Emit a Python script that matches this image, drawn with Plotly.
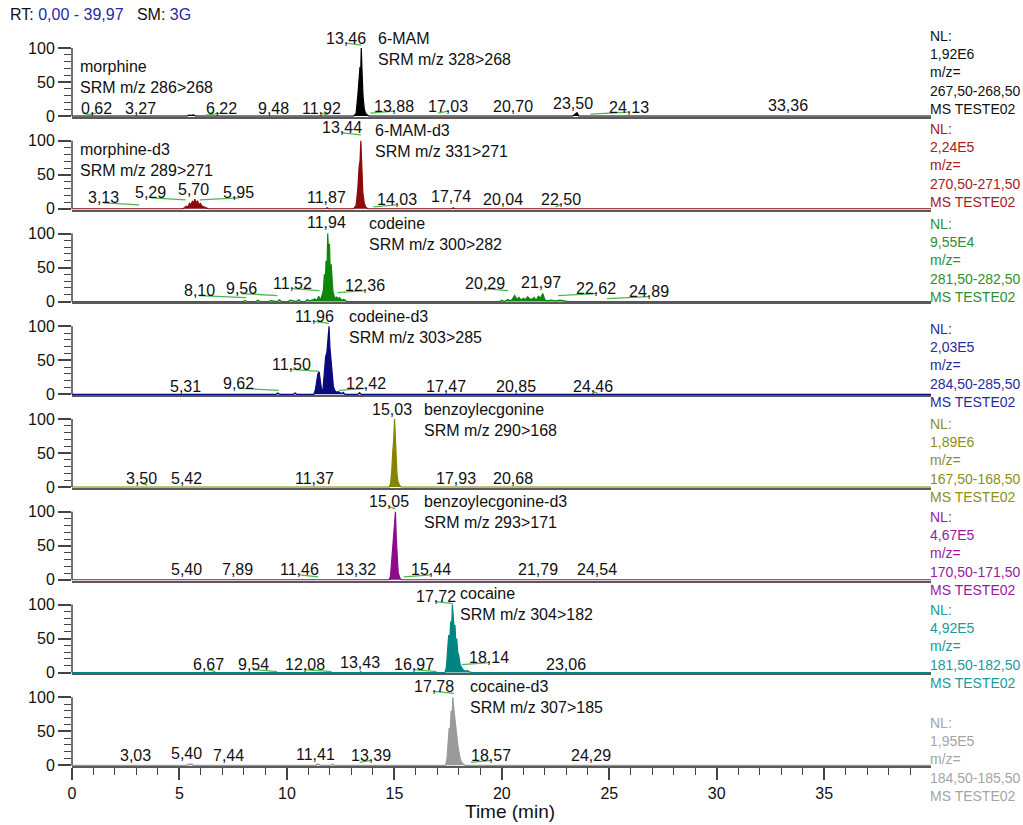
import plotly.graph_objects as go
from plotly.subplots import make_subplots

# ---------------- data ----------------
panel_names = ["6-MAM", "6-MAM-d3", "codeine", "codeine-d3", "benzoylecgonine",
               "benzoylecgonine-d3", "cocaine", "cocaine-d3"]
nl_values = ["1,92E6", "2,24E5", "9,55E4", "2,03E5", "1,89E6", "4,67E5", "4,92E5", "1,95E5"]
mz_ranges = ["267,50-268,50", "270,50-271,50", "281,50-282,50", "284,50-285,50",
             "167,50-168,50", "170,50-171,50", "181,50-182,50", "184,50-185,50"]

t1 = [0.0, 5.35, 5.45, 5.55, 5.65, 5.75, 13.10, 13.22, 13.30, 13.36, 13.40, 13.43, 13.46, 13.50,
      13.54, 13.60, 13.66, 13.74, 13.82, 23.30, 23.42, 23.50, 23.58, 39.97]
y1 = [0, 0, 1.5, 1.0, 1.8, 0, 0, 4, 30, 68, 72, 60, 100, 62, 30, 10, 4, 1.5, 0, 0, 2.5, 5, 0, 0]

t2 = [0.0, 5.15, 5.25, 5.32, 5.40, 5.47, 5.53, 5.60, 5.66, 5.72, 5.78, 5.84, 5.90, 5.97, 6.05,
      6.15, 6.25, 6.35, 11.80, 11.87, 11.94, 13.10, 13.22, 13.30, 13.36, 13.40, 13.44, 13.48,
      13.53, 13.60, 13.68, 13.78, 17.68, 17.74, 17.80, 39.97]
y2 = [0, 0, 2, 4, 3, 8, 6, 11, 9, 14, 8, 12, 6, 8, 4,
      3, 1.5, 0, 0, 1.5, 0, 0, 5, 30, 62, 70, 100, 58,
      25, 8, 2, 0, 0, 1.5, 0, 0]

t3 = [0.0, 7.95, 8.05, 8.15, 8.55, 8.65, 8.75, 9.15, 9.25, 9.55, 9.65, 9.75, 10.05, 10.15,
      10.45, 10.55, 10.65, 10.85, 10.95, 11.05, 11.20, 11.30, 11.40, 11.48, 11.54, 11.60, 11.66,
      11.70, 11.74, 11.78, 11.82, 11.86, 11.90, 11.94, 11.98, 12.02, 12.06, 12.10, 12.14, 12.20,
      12.26, 12.32, 12.38, 12.44, 12.55, 12.65, 12.80, 12.90, 19.90, 20.00, 20.10, 20.20, 20.30,
      20.40, 20.50, 20.60, 20.70, 20.80, 20.90, 21.00, 21.10, 21.20, 21.30, 21.40, 21.50, 21.60,
      21.70, 21.80, 21.90, 22.00, 22.10, 22.30, 22.50, 22.70, 22.90, 23.10, 39.97]
y3 = [0, 0, 1.5, 0, 0, 2, 0, 0, 1.5, 0, 2.5, 0, 0, 2,
      0, 2.5, 0, 0, 3, 1, 2.5, 4, 2, 8, 3, 6, 12,
      18, 40, 25, 60, 45, 100, 70, 85, 40, 55, 22, 15, 8,
      4, 7, 3, 6, 2, 3, 0, 0, 0, 2, 0, 1.5, 3,
      1, 4, 9, 3, 6, 2, 5, 3, 7, 4, 3, 6, 2,
      8, 5, 12, 3, 1, 2, 1, 2, 1, 0, 0]

t4 = [0.0, 5.20, 5.30, 5.40, 9.50, 9.58, 9.66, 10.30, 10.38, 10.46, 11.25, 11.32, 11.38, 11.44,
      11.50, 11.56, 11.62, 11.68, 11.74, 11.80, 11.86, 11.92, 11.96, 12.00, 12.05, 12.10, 12.16,
      12.22, 12.30, 12.38, 12.46, 12.55, 12.62, 12.70, 13.30, 13.38, 13.46, 39.97]
y4 = [0, 0, 1, 0, 0, 2, 0, 0, 2, 0, 0, 6, 22, 30,
      33, 20, 5, 8, 30, 55, 62, 85, 100, 70, 50, 25, 12,
      6, 3, 4, 2, 1, 3, 0, 0, 2.5, 0, 0]

t5 = [0.0, 14.75, 14.82, 14.88, 14.93, 14.97, 15.01, 15.04, 15.08, 15.12, 15.17, 15.24, 15.32, 39.97]
y5 = [0, 0, 4, 25, 55, 70, 100, 78, 45, 20, 8, 3, 0, 0]

t6 = [0.0, 14.75, 14.82, 14.88, 14.93, 14.98, 15.02, 15.05, 15.09, 15.13, 15.18, 15.25, 15.33, 39.97]
y6 = [0, 0, 5, 30, 62, 75, 90, 100, 60, 25, 10, 3, 0, 0]

t7 = [0.0, 13.38, 13.43, 13.48, 17.35, 17.42, 17.48, 17.53, 17.58, 17.62, 17.66, 17.70, 17.74,
      17.78, 17.82, 17.86, 17.90, 17.95, 18.00, 18.06, 18.12, 18.20, 18.30, 18.40, 18.50, 18.60, 39.97]
y7 = [0, 0, 1.5, 0, 0, 8, 35, 55, 48, 75, 60, 100, 82,
      65, 70, 45, 50, 30, 25, 12, 8, 4, 2, 3, 1, 0, 0]

t8 = [0.0, 5.35, 5.42, 5.50, 5.58, 5.65, 11.35, 11.42, 11.50, 11.58, 12.05, 12.12, 12.19, 17.38,
      17.45, 17.50, 17.55, 17.60, 17.64, 17.68, 17.72, 17.76, 17.80, 17.85, 17.90, 17.95, 18.00,
      18.06, 18.12, 18.20, 18.30, 39.97]
y8 = [0, 0, 2, 1, 2, 0, 0, 2, 1, 0, 0, 2, 0, 0,
      10, 40, 55, 50, 80, 65, 100, 85, 70, 55, 45, 30, 20,
      10, 5, 2, 0, 0]

# labelled retention times (min)
rt_p1 = [13.46, 0.62, 3.27, 6.22, 9.48, 11.92, 13.88, 17.03, 20.70, 23.50, 24.13, 33.36]
rt_p2 = [13.44, 3.13, 5.29, 5.70, 5.95, 11.87, 14.03, 17.74, 20.04, 22.50]
rt_p3 = [11.94, 8.10, 9.56, 11.52, 12.36, 20.29, 21.97, 22.62, 24.89]
rt_p4 = [11.96, 11.50, 5.31, 9.62, 12.42, 17.47, 20.85, 24.46]
rt_p5 = [15.03, 3.50, 5.42, 11.37, 17.93, 20.68]
rt_p6 = [15.05, 5.40, 7.89, 11.46, 13.32, 15.44, 21.79, 24.54]
rt_p7 = [17.72, 6.67, 9.54, 12.08, 13.43, 16.97, 18.14, 23.06]
rt_p8 = [17.78, 3.03, 5.40, 7.44, 11.41, 13.39, 18.57, 24.29]

# ---------------- layout / style ----------------
traces_t = [t1, t2, t3, t4, t5, t6, t7, t8]
traces_y = [y1, y2, y3, y4, y5, y6, y7, y8]
rts = [rt_p1, rt_p2, rt_p3, rt_p4, rt_p5, rt_p6, rt_p7, rt_p8]
for a, b in zip(traces_t, traces_y):
    assert len(a) == len(b), (len(a), len(b))

# label offsets in pixels (text centre relative to peak RT / baseline)
lab_dx = [
    [-15, 11, -2, 16, -2, -7, 24, 10, -4, -4, 38, -1],
    [-19, -36, -35, -1, 39, -1, 23, -2, 0, 5],
    [-2, -47, -36, -27, 27, -23, -3, 38, 42],
    [-15, -28, -1, -40, 27, -1, -4, -5],
    [-3, -6, -2, -2, -1, -3],
    [-6, -2, -4, -19, -2, 27, -2, -2],
    [-17, -7, -24, -27, -1, -23, 27, -2],
    [-20, -2, -2, -3, -2, 11, 20, -3],
]
lab_dy = [
    [78, 8, 8, 8, 8, 8, 10, 10, 10, 13, 9, 11],
    [81, 11, 16, 19, 16, 11, 9, 12, 9, 9],
    [79, 11, 13, 18, 16, 18, 19, 13, 10],
    [78, 30, 8, 11, 11, 8, 8, 8],
    [78, 9, 9, 9, 9, 9],
    [78, 10, 10, 10, 10, 10, 10, 10],
    [76, 8, 8, 8, 10, 8, 15, 8],
    [79, 10, 12, 10, 11, 10, 10, 10],
]

trace_colors = ["#000000", "#8B0A0A", "#0C870C", "#0A0A80", "#858500", "#8E0A8E", "#008585", "#9A9A9A"]
text_colors = ["#111111", "#A52020", "#2E902E", "#2A2A9A", "#8E8E18", "#9A1A9A", "#1A9A9A", "#A5A5A5"]

W, H = 1023, 825
ML, MR, MT, MB = 72, 92, 24, 59
PW, PH = W - ML - MR, H - MT - MB
FONT = "Liberation Sans, Arial, sans-serif"


def px_x(px):
    return (px - ML) / PW


def px_y(py):
    return (H - MB - py) / PH


compound_labels = [
    [("morphine<br>SRM m/z 286>268", 80, 77), ("6-MAM<br>SRM m/z 328>268", 378, 49)],
    [("morphine-d3<br>SRM m/z 289>271", 80, 160), ("6-MAM-d3<br>SRM m/z 331>271", 375, 141)],
    [("codeine<br>SRM m/z 300>282", 369, 234)],
    [("codeine-d3<br>SRM m/z 303>285", 349, 327)],
    [("benzoylecgonine<br>SRM m/z 290>168", 424, 420)],
    [("benzoylecgonine-d3<br>SRM m/z 293>171", 424, 512)],
    [("cocaine<br>SRM m/z 304>182", 460, 604)],
    [("cocaine-d3<br>SRM m/z 307>185", 470, 697)],
]
nl_top_px = [35, 128, 223, 328, 423, 516, 609, 722]
LINE_SP = 18.2

fig = make_subplots(rows=8, cols=1, shared_xaxes=True, vertical_spacing=0)

annotations = []
shapes = []
for i in range(8):
    r = i + 1
    sx = "" if r == 1 else str(r)
    fig.add_trace(go.Scatter(x=traces_t[i], y=traces_y[i], mode="lines",
                             line=dict(color=trace_colors[i], width=1.2),
                             fill="tozeroy", fillcolor=trace_colors[i],
                             name=panel_names[i], hoverinfo="skip", showlegend=False),
                  row=r, col=1)
    # y axis line only from 0 to 100
    shapes.append(dict(type="line", xref=f"x{sx} domain", x0=0, x1=0,
                       yref=f"y{sx}", y0=0, y1=100, line=dict(color="#444444", width=1.5)))
    # peak labels
    for rt, dx, dy in zip(rts[i], lab_dx[i], lab_dy[i]):
        annotations.append(dict(x=rt, y=0, xref=f"x{sx}", yref=f"y{sx}",
                                text=f"{rt:.2f}".replace(".", ","), showarrow=False,
                                xanchor="center", yanchor="middle", xshift=dx, yshift=dy,
                                font=dict(family=FONT, size=16, color="#111111")))
        if abs(dx) >= 5:
            shapes.append(dict(type="line", xref=f"x{sx}", xsizemode="pixel", xanchor=rt,
                               x0=0, x1=dx, yref=f"y{sx}", ysizemode="pixel", yanchor=0,
                               y0=dy - 7, y1=dy - 5,
                               line=dict(color="#4CB84C", width=1.3)))
    # compound labels
    for txt, xpx, ypx in compound_labels[i]:
        annotations.append(dict(x=px_x(xpx), y=px_y(ypx), xref="paper", yref="paper",
                                text=txt, showarrow=False, align="left",
                                xanchor="left", yanchor="middle", xshift=-2,
                                font=dict(family=FONT, size=16, color="#111111")))
    # right-hand info block
    lines = ["NL:", nl_values[i], "m/z=", mz_ranges[i], "MS TESTE02"]
    for k, ln in enumerate(lines):
        annotations.append(dict(x=1, y=px_y(nl_top_px[i] + k * LINE_SP + 1), xref="paper", yref="paper",
                                text=ln, showarrow=False, xanchor="left", yanchor="middle",
                                xshift=-3, font=dict(family=FONT, size=14, color=text_colors[i])))

annotations.append(dict(x=px_x(8), y=px_y(15), xref="paper", yref="paper",
                        text="RT: <span style='color:#2828A8'>0,00 - 39,97</span>   SM: <span style='color:#2828A8'>3G</span>",
                        showarrow=False, xanchor="left", yanchor="middle",
                        font=dict(family=FONT, size=16, color="#111111")))
annotations.append(dict(x=px_x(510), y=px_y(811), xref="paper", yref="paper",
                        text="Time (min)", showarrow=False, xanchor="center", yanchor="middle",
                        font=dict(family=FONT, size=19, color="#111111")))

fig.update_yaxes(range=[-1, 135.4], tickvals=[0, 50, 100], ticktext=["0", "50", "100"],
                 ticks="outside", ticklen=13, tickwidth=1.5, tickcolor="#444444",
                 minor=dict(tickvals=[10, 20, 30, 40, 60, 70, 80, 90], ticks="outside",
                            ticklen=7, tickwidth=1.2, tickcolor="#444444"),
                 showgrid=False, zeroline=False, showline=False,
                 tickfont=dict(family=FONT, size=16, color="#111111"))
fig.update_xaxes(range=[0, 39.97], showgrid=False, zeroline=False, showline=True,
                 linecolor="#5A5A5A", linewidth=2, ticks="", showticklabels=False)
fig.update_xaxes(row=8, col=1, ticks="outside", tickvals=[0, 5, 10, 15, 20, 25, 30, 35],
                 ticklen=12, tickwidth=1.5, tickcolor="#444444", showticklabels=True,
                 tickfont=dict(family=FONT, size=16, color="#111111"),
                 minor=dict(dtick=1, tick0=0, ticks="outside", ticklen=7, tickwidth=1.2,
                            tickcolor="#444444"))

fig.update_layout(width=W, height=H, margin=dict(l=ML, r=MR, t=MT, b=MB),
                  paper_bgcolor="white", plot_bgcolor="white",
                  annotations=annotations, shapes=shapes, showlegend=False,
                  font=dict(family=FONT))

fig.write_html("out.html", config={"displayModeBar": False},
               post_script="document.body.style.margin='0';document.body.style.overflow='hidden';")
